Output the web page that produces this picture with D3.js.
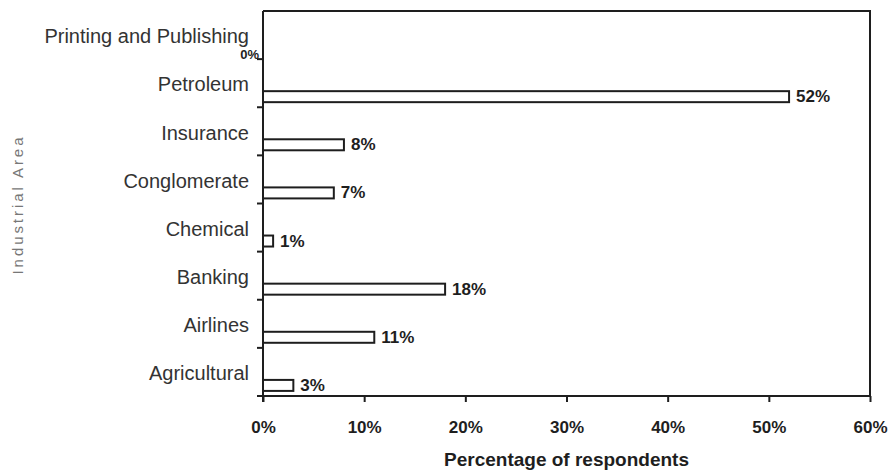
<!DOCTYPE html>
<html>
<head>
<meta charset="utf-8">
<script src="https://cdn.jsdelivr.net/npm/d3@7"></script>
<style>
  html, body { margin: 0; padding: 0; background: #fff; }
  svg { display: block; font-family: "Liberation Sans", Arial, sans-serif; }
</style>
</head>
<body>
<svg id="chart" width="890" height="472"></svg>
<script>
// Industrial areas, top to bottom
const categories = [
  "Printing and Publishing", "Petroleum", "Insurance", "Conglomerate",
  "Chemical", "Banking", "Airlines", "Agricultural"
];
// Share of respondents per industry (%)
const values = [0, 52, 8, 7, 1, 18, 11, 3];
// Axis ticks (%)
const xTicks = [0, 10, 20, 30, 40, 50, 60];
const xTitle = "Percentage of respondents";
const yTitle = "Industrial Area";

const svg = d3.select("#chart");
const plot = { left: 263, right: 870, top: 11, bottom: 396 };
const ink = "#1e1e1e";

const x = d3.scaleLinear().domain([0, 60]).range([plot.left, plot.right]);
const y = d3.scaleBand().domain(categories).range([plot.top, plot.bottom]);
const bw = y.bandwidth();
const barH = 11;
const barY = c => y(c) + bw * 0.78 - barH / 2;

// Bars (white fill, dark outline)
svg.append("g").selectAll("rect")
  .data(categories.map((c, i) => ({ c, v: values[i] })))
  .join("rect")
  .attr("x", x(0))
  .attr("y", d => barY(d.c))
  .attr("width", d => x(d.v) - x(0))
  .attr("height", barH)
  .attr("fill", "#fff")
  .attr("stroke", ink)
  .attr("stroke-width", 2);

// Frame: top and right edges
svg.append("path")
  .attr("d", `M${plot.left},${plot.top}H${plot.right}V${plot.bottom}`)
  .attr("fill", "none").attr("stroke", ink).attr("stroke-width", 2);

// Bottom axis
const xAxis = svg.append("g")
  .attr("transform", `translate(0,${plot.bottom})`)
  .call(d3.axisBottom(x).tickValues(xTicks).tickSize(6).tickSizeOuter(0)
    .tickFormat(d => d + "%"));
xAxis.select(".domain").attr("stroke", ink).attr("stroke-width", 2)
  .attr("d", `M${plot.left - 1},0H${plot.right + 1}`);
xAxis.selectAll(".tick line").attr("stroke", ink).attr("stroke-width", 2);
xAxis.selectAll(".tick text")
  .attr("y", 0).attr("dy", "2.15em")
  .attr("fill", ink)
  .style("font-size", "17px").style("font-weight", "bold")
  .style("font-family", "'Liberation Sans', Arial, sans-serif");

// Left axis with ticks at the band boundaries
const bounds = categories.map(c => y(c)).concat([plot.bottom]);
svg.append("line")
  .attr("x1", plot.left).attr("x2", plot.left)
  .attr("y1", plot.top).attr("y2", plot.bottom + 6)
  .attr("stroke", ink).attr("stroke-width", 2);
svg.append("g").selectAll("line")
  .data(bounds.slice(1))
  .join("line")
  .attr("x1", plot.left - 6).attr("x2", plot.left)
  .attr("y1", d => d).attr("y2", d => d)
  .attr("stroke", ink).attr("stroke-width", 2);

// Category labels
svg.append("g").selectAll("text")
  .data(categories)
  .join("text")
  .attr("x", 249)
  .attr("y", c => y(c) + bw / 2 + 3)
  .attr("text-anchor", "end")
  .attr("dominant-baseline", "middle")
  .attr("fill", "#333")
  .style("font-size", "20px")
  .text(c => c);

// Value labels beside each bar (a zero value sits just left of the axis)
svg.append("g").selectAll("text")
  .data(categories.map((c, i) => ({ c, v: values[i] })))
  .join("text")
  .attr("x", d => d.v === 0 ? x(0) - 4 : x(d.v) + 7)
  .attr("y", d => d.v === 0 ? barY(d.c) + barH / 2 + 7 : barY(d.c) + barH / 2 + 1)
  .attr("text-anchor", d => d.v === 0 ? "end" : "start")
  .attr("dominant-baseline", "middle")
  .attr("fill", ink)
  .style("font-size", d => d.v === 0 ? "13px" : "17px")
  .style("font-weight", "bold")
  .text(d => d.v + "%");

// Axis titles
svg.append("text")
  .attr("x", (plot.left + plot.right) / 2).attr("y", 466)
  .attr("text-anchor", "middle")
  .attr("fill", ink)
  .style("font-size", "19px").style("font-weight", "bold")
  .text(xTitle);

svg.append("text")
  .attr("transform", "translate(23,206) rotate(-90)")
  .attr("text-anchor", "middle")
  .attr("fill", "#777")
  .attr("textLength", 137).attr("lengthAdjust", "spacing")
  .style("font-size", "15px")
  .text(yTitle);
</script>
</body>
</html>
